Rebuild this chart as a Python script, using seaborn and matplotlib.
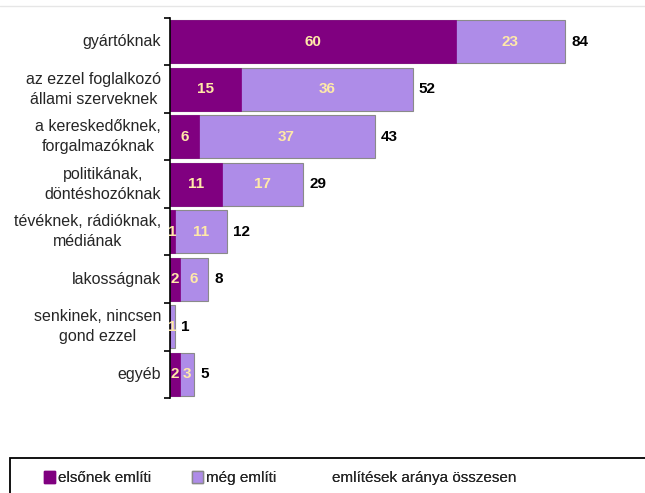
import matplotlib
matplotlib.use('Agg')
import matplotlib.pyplot as plt
import seaborn as sns
import pandas as pd
import numpy as np
from matplotlib.patches import Patch, Rectangle

# chart data
categories = [
    "gyártóknak",
    "az ezzel foglalkozó\nállami szerveknek",
    "a kereskedőknek,\nforgalmazóknak",
    "politikának,\ndöntéshozóknak",
    "tévéknek, rádióknak,\nmédiának",
    "lakosságnak",
    "senkinek, nincsen\ngond ezzel",
    "egyéb",
]
first_mention = [60, 15, 6, 11, 1, 2, 0, 2]
other_mention = [23, 36, 37, 17, 11, 6, 1, 3]
total_mention = [84, 52, 43, 29, 12, 8, 1, 5]

legend_labels = ["elsőnek említi", "még említi", "említések aránya összesen"]

dark = "#800080"
light = "#ae8ce8"
inner_color = "#ffe9a8"

sns.set_style("white")
plt.rcParams['font.family'] = ['Liberation Sans', 'DejaVu Sans']

df = pd.DataFrame({
    "cat": categories,
    "first": first_mention,
    "other": other_mention,
    "total": total_mention,
})
df["stack"] = df["first"] + df["other"]

W, H = 645, 493
fig = plt.figure(figsize=(W / 100, H / 100), dpi=100)
ax = fig.add_axes([170 / W, 1 - 398 / H, 1 - 170 / W, 380 / H])

# stacked: full length in light colour, first mention drawn over it
sns.barplot(data=df, y="cat", x="stack", color=light, orient="h", width=0.9,
            edgecolor="#8a8a8a", linewidth=0.8, ax=ax, saturation=1)
sns.barplot(data=df, y="cat", x="first", color=dark, orient="h", width=0.9,
            edgecolor=dark, linewidth=0.5, ax=ax, saturation=1)

for i, row in df.iterrows():
    if row["first"] > 0:
        ax.text(row["first"] / 2, i, str(row["first"]), ha="center", va="center",
                color=inner_color, fontsize=11, fontweight="bold")
    if row["other"] > 0:
        ax.text(row["first"] + row["other"] / 2, i, str(row["other"]), ha="center",
                va="center", color=inner_color, fontsize=11, fontweight="bold")
    ax.text(row["stack"] + 1.3, i, str(row["total"]), ha="left", va="center",
            color="black", fontsize=11, fontweight="bold")
    # category label, centred lines, right-aligned block
    ax.annotate(row["cat"], xy=(0, i), xycoords=("axes fraction", "data"),
                xytext=(-9, 0), textcoords="offset pixels", ha="right",
                va="center", multialignment="center", linespacing=1.4,
                fontsize=11.5, annotation_clip=False)

ax.set_xlim(0, 475 / 4.76)
ax.set_ylim(len(categories) - 0.5, -0.5)
ax.set_xlabel("")
ax.set_ylabel("")
ax.set_xticks([])
ax.set_yticks([])
ax.set_yticks(np.arange(len(categories) + 1) - 0.5, minor=True)
ax.tick_params(axis="y", which="minor", left=True, length=4, width=1.2,
               color="black", direction="out")
for side in ["top", "right", "bottom"]:
    ax.spines[side].set_visible(False)
ax.spines["left"].set_color("black")
ax.spines["left"].set_linewidth(1.2)

# faint line at the top
fig.add_artist(plt.Line2D([0, 1], [1 - 6 / H, 1 - 6 / H], color="#e6e6e6", linewidth=1))

# legend box across the bottom
fig.add_artist(Rectangle((10 / W, -0.05), 1.0, (H - 458) / H + 0.05,
                         transform=fig.transFigure, facecolor="white",
                         edgecolor="black", linewidth=1.3, clip_on=False))
handles = [
    Patch(facecolor=dark, edgecolor=dark),
    Patch(facecolor=light, edgecolor="#8a8a8a"),
    Patch(facecolor="none", edgecolor="none"),
]
legend_x = [44, 192, 318]
for h, lab, x in zip(handles, legend_labels, legend_x):
    leg = fig.legend([h], [lab], loc="center left",
                     bbox_to_anchor=(x / W, 1 - 478 / H), frameon=False,
                     fontsize=11, handlelength=0.7, handleheight=0.8,
                     handletextpad=0.2, borderpad=0.0, borderaxespad=0.0)
    fig.add_artist(leg)

fig.savefig("out.png", dpi=100)
